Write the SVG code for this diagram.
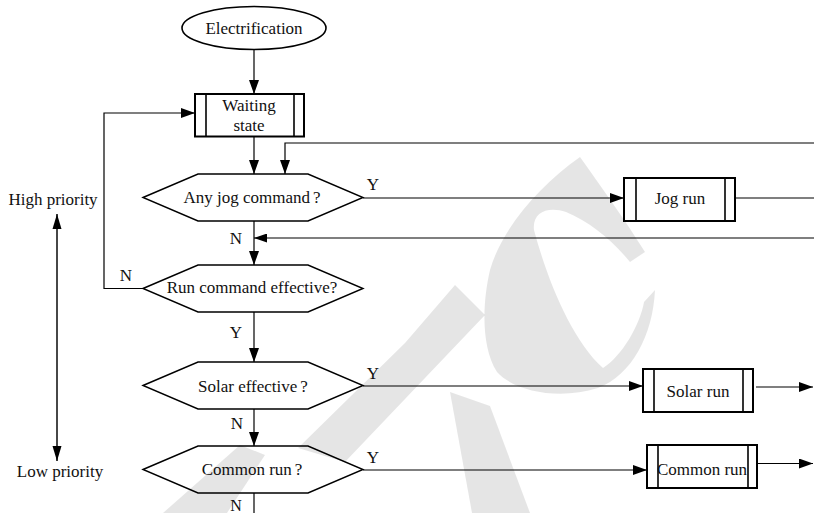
<svg xmlns="http://www.w3.org/2000/svg" width="814" height="513" viewBox="0 0 814 513">
<defs>
<marker id="ah" markerUnits="userSpaceOnUse" markerWidth="14" markerHeight="10" refX="14" refY="5" orient="auto">
<path d="M0,0 L14,5 L0,10 z" fill="#000"/>
</marker>
<marker id="ahs" markerUnits="userSpaceOnUse" markerWidth="13" markerHeight="9" refX="13" refY="4.5" orient="auto">
<path d="M0,0 L13,4.5 L0,9 z" fill="#000"/>
</marker>
<marker id="ahp" markerUnits="userSpaceOnUse" markerWidth="15" markerHeight="10" refX="15" refY="5" orient="auto-start-reverse">
<path d="M0,0.5 L15,5 L0,9.5 z" fill="#000"/>
</marker>
</defs>
<style>
text{font-family:"Liberation Serif","Times New Roman",serif;font-size:17px;fill:#111;text-anchor:middle}
.hex{fill:#fff;stroke:#000;stroke-width:1.4}
.box{fill:#fff;stroke:#000;stroke-width:2}
.in{stroke:#000;stroke-width:1.6}
.ell{fill:#fff;stroke:#000;stroke-width:1.6}
.c{fill:none;stroke:#000;stroke-width:1.2}
.ca{fill:none;stroke:#000;stroke-width:1.2;marker-end:url(#ah)}
.wm{fill:#000;fill-opacity:0.1;stroke:none}
</style>

<g id="connectors">
<path class="ca" d="M254,50 V94"/>
<path class="ca" d="M254,137 V174"/>
<path class="ca" d="M814,143 H285 V174"/>
<path class="ca" d="M363,198 H624"/>
<path class="c" d="M735,198 H814"/>
<path class="c" d="M814,238 H254" marker-end="url(#ahs)"/>
<path class="ca" d="M254,221 V265"/>
<path class="ca" d="M143,288.5 H104 V113 H195"/>
<path class="ca" d="M254,312 V362"/>
<path class="ca" d="M363,386 H643"/>
<path class="ca" d="M756,387 H813"/>
<path class="ca" d="M254,409 V446"/>
<path class="ca" d="M363,470 H647"/>
<path class="ca" d="M757,463.5 H813"/>
<path class="c" d="M254,493 V513"/>
<path d="M57,214 V461" fill="none" stroke="#333" stroke-width="1.8" marker-start="url(#ahp)" marker-end="url(#ahp)"/>
</g>

<g id="edge-labels">
<text x="373" y="190">Y</text>
<text x="236" y="243.5">N</text>
<text x="126" y="281">N</text>
<text x="236" y="337.5">Y</text>
<text x="373" y="378.5">Y</text>
<text x="237" y="429">N</text>
<text x="373" y="462.5">Y</text>
<text x="236" y="511" style="font-size:16px">N</text>
<text x="53" y="204.5">High priority</text>
<text x="60" y="477">Low priority</text>
</g>

<g id="electrification">
<ellipse class="ell" cx="254" cy="28" rx="72" ry="21.5"/>
<text x="254" y="33.5">Electrification</text>
</g>

<g id="waiting-state">
<rect class="box" x="195" y="94" width="109" height="42.5"/>
<line class="in" x1="206" y1="94" x2="206" y2="136.5"/>
<line class="in" x1="294" y1="94" x2="294" y2="136.5"/>
<text x="249" y="111">Waiting</text>
<text x="249" y="131">state</text>
</g>

<g id="any-jog">
<polygon class="hex" points="143,197.5 198,174 308,174 363,197.5 308,221 198,221"/>
<text x="252" y="202.5">Any jog command<tspan dx="3">?</tspan></text>
</g>

<g id="jog-run">
<rect class="box" x="624" y="178" width="111" height="43"/>
<line class="in" x1="636" y1="178" x2="636" y2="221"/>
<line class="in" x1="725" y1="178" x2="725" y2="221"/>
<text x="680" y="204">Jog run</text>
</g>

<g id="run-command">
<polygon class="hex" points="143,288.5 198,265 308,265 363,288.5 308,312 198,312"/>
<text x="252" y="292.5">Run command effective?</text>
</g>

<g id="solar-effective">
<polygon class="hex" points="143,385.5 198,362 308,362 363,385.5 308,409 198,409"/>
<text x="253" y="391.5">Solar effective<tspan dx="3">?</tspan></text>
</g>

<g id="solar-run">
<rect class="box" x="643" y="369" width="110" height="43"/>
<line class="in" x1="654" y1="369" x2="654" y2="412"/>
<line class="in" x1="743" y1="369" x2="743" y2="412"/>
<text x="698" y="396.5">Solar run</text>
</g>

<g id="common-run-q">
<polygon class="hex" points="143,469.5 198,446 308,446 363,469.5 308,493 198,493"/>
<text x="252" y="475">Common run<tspan dx="3">?</tspan></text>
</g>

<g id="common-run">
<rect class="box" x="647" y="445" width="110" height="43"/>
<line class="in" x1="658" y1="445" x2="658" y2="488"/>
<line class="in" x1="748" y1="445" x2="748" y2="488"/>
<text x="702" y="474.5">Common run</text>
</g>

<g id="watermark">
<path class="wm" d="M580,157 C600,185 625,220 645,252 L630,262 C612,240 590,222 566,212 C548,206 532,212 534,230 C548,282 572,340 603,368 C622,356 640,325 644,302 L655,290 C653,335 632,375 598,388 C560,400 515,392 497,372 C480,345 483,300 490,270 C502,228 540,185 580,157 Z"/>
<path class="wm" d="M298,448 L405,343 L455,285 L485,315 L345,462 Z"/>
<path class="wm" d="M450,392 L490,406 L530,513 L472,513 Z"/>
<path class="wm" d="M163,513 L240,445 L265,455 L227,513 Z"/>
</g>
</svg>
